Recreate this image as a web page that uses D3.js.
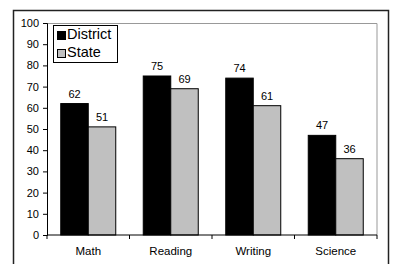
<!DOCTYPE html>
<html>
<head>
<meta charset="utf-8">
<script src="https://cdn.jsdelivr.net/npm/d3@7"></script>
<style>
  body { margin: 0; background: #fff; }
  svg text { font-family: "Liberation Sans", Arial, sans-serif; fill: #000; }
</style>
</head>
<body>
<div id="chart"></div>
<script>
const categories = ['Math', 'Reading', 'Writing', 'Science'];
const seriesNames = ['District', 'State'];
const district = [62, 75, 74, 47];
const state = [51, 69, 61, 36];
const yTicks = [0, 10, 20, 30, 40, 50, 60, 70, 80, 90, 100];
const colors = ['#000000', '#c0c0c0'];

const W = 393, H = 264;
const margin = { top: 23, right: 16, bottom: 29, left: 47 };
const width = W - margin.left - margin.right;
const height = H - margin.top - margin.bottom;
const font = '"Liberation Sans", Arial, sans-serif';

const svg = d3.select('#chart').append('svg')
  .attr('width', W)
  .attr('height', H);

// outer frame
svg.append('rect')
  .attr('x', 13.5).attr('y', 10.5)
  .attr('width', 375).attr('height', 262)
  .attr('fill', 'none')
  .attr('stroke', '#222')
  .attr('stroke-width', 1.5);

const g = svg.append('g')
  .attr('transform', `translate(${margin.left},${margin.top})`);

const x = d3.scaleBand().domain(categories).range([0, width]).paddingInner(0).paddingOuter(0);
const x1 = d3.scaleBand().domain(seriesNames).range([0, 55]).padding(0);
const y = d3.scaleLinear().domain([0, 100]).range([height, 0]);

// plot area border (gray top/right)
g.append('path')
  .attr('d', `M0,0.5H${width}V${height}`)
  .attr('fill', 'none')
  .attr('stroke', '#999')
  .attr('stroke-width', 1);

const data = categories.map((c, i) => ({ cat: c, vals: [district[i], state[i]] }));
const groupOffset = (x.bandwidth() - 55) / 2;

const groups = g.selectAll('.grp')
  .data(data)
  .enter().append('g')
  .attr('transform', d => `translate(${x(d.cat) + groupOffset},0)`);

groups.selectAll('rect')
  .data(d => d.vals.map((v, j) => ({ name: seriesNames[j], v, j })))
  .enter().append('rect')
  .attr('x', d => x1(d.name))
  .attr('y', d => y(d.v))
  .attr('width', x1.bandwidth())
  .attr('height', d => height - y(d.v))
  .attr('fill', d => colors[d.j])
  .attr('stroke', '#000')
  .attr('stroke-width', 1);

groups.selectAll('.lbl')
  .data(d => d.vals.map((v, j) => ({ name: seriesNames[j], v, j })))
  .enter().append('text')
  .attr('x', d => x1(d.name) + x1.bandwidth() / 2)
  .attr('y', d => y(d.v) - 6)
  .attr('text-anchor', 'middle')
  .style('font-size', '11px')
  .text(d => d.v);

// y axis
const yAxis = g.append('g')
  .call(d3.axisLeft(y).tickValues(yTicks).tickSize(4).tickPadding(4));
yAxis.selectAll('text').style('font-size', '11px').style('font-family', font);
yAxis.select('.domain').attr('stroke', '#000');

// x axis
const xAxis = g.append('g')
  .attr('transform', `translate(0,${height})`)
  .call(d3.axisBottom(x).tickSize(0).tickPadding(12));
xAxis.selectAll('text').style('font-size', '11.5px').style('font-family', font);
xAxis.select('.domain').attr('d', `M0,0H${width}`).attr('stroke', '#000');
xAxis.selectAll('.sep')
  .data(d3.range(categories.length + 1))
  .enter().append('line')
  .attr('x1', i => i * x.step()).attr('x2', i => i * x.step())
  .attr('y1', 0).attr('y2', 4)
  .attr('stroke', '#000');

// legend
const legend = g.append('g').attr('transform', 'translate(6,2)');
legend.append('rect')
  .attr('x', 0.5).attr('y', 0.5)
  .attr('width', 64).attr('height', 37)
  .attr('fill', '#fff')
  .attr('stroke', '#000');
seriesNames.forEach((n, i) => {
  legend.append('rect')
    .attr('x', 4.5).attr('y', 6.5 + i * 18)
    .attr('width', 8).attr('height', 8)
    .attr('fill', colors[i])
    .attr('stroke', '#000');
  legend.append('text')
    .attr('x', 14).attr('y', 14 + i * 18)
    .style('font-size', '14.5px')
    .text(n);
});
</script>
</body>
</html>
